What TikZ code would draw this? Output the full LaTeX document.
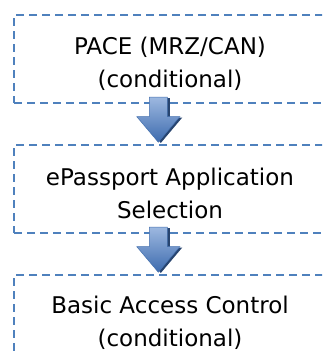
\documentclass[tikz,border=0pt]{standalone}
\usepackage{fontspec}
\setmainfont{DejaVu Sans}
\usetikzlibrary{calc}
\definecolor{dashblue}{HTML}{4F81BD}
\definecolor{arrowlight}{HTML}{9DB8E0}
\definecolor{arrowdark}{HTML}{3D6BAE}
\definecolor{arrowedge}{HTML}{4470AE}
\definecolor{arrowshadow}{HTML}{27446F}
\tikzset{
  stagebox/.style={draw=dashblue, line width=2.6pt, dash pattern=on 8pt off 5pt,
    minimum width=312pt, minimum height=88pt, inner sep=0pt},
  stagetext/.style={font=\fontsize{23}{33}\selectfont, align=center, inner sep=0pt, text=black},
  blockarrow/.style={top color=arrowlight, bottom color=arrowdark, draw=arrowedge, line width=0.5pt, line join=miter},
  blockshadow/.style={fill=arrowshadow, draw=none}
}
\begin{document}
\begin{tikzpicture}[x=1pt,y=1pt]
\useasboundingbox (0,0) rectangle (322,-354);
\clip (0,0) rectangle (322,-354);
\node[stagebox] (b1) at (170,-59) {};
\node[stagebox] (b2) at (170,-189) {};
\node[stagebox] (b3) at (170,-319) {};
\node[stagetext, anchor=base] (t1) at (170,-87) {PACE (MRZ/CAN)\\(conditional)};
\node[stagetext, anchor=base] (t2) at (170,-218) {ePassport Application\\Selection};
\node[stagetext, anchor=base] (t3) at (170,-346) {Basic Access Control\\(conditional)};
\foreach \u/\v in {b1/b2, b2/b3} {
  \coordinate (tip) at ($(\v.north)+(-11.7,1.5)$);
  \path[blockshadow] ($(tip)+(2.5,-0.8)$) -- ++(-21.5,25.5) -- ++(12.5,0) -- ++(0,19.5) -- ++(18,0) -- ++(0,-19.5) -- ++(12.5,0) -- cycle;
  \path[blockarrow] (tip) -- ++(-21.5,25.5) -- ++(12.5,0) -- ++(0,19.5) -- ++(18,0) -- ++(0,-19.5) -- ++(12.5,0) -- cycle;
}
\end{tikzpicture}
\end{document}
